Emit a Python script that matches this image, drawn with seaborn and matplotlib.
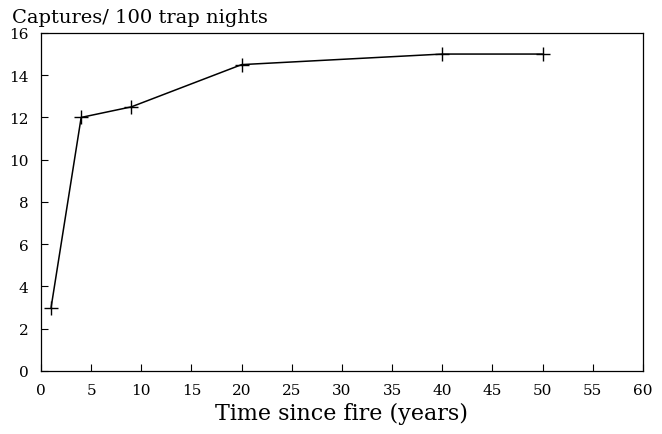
import pandas as pd
from matplotlib import pyplot as plt
import seaborn as sns

# Captures per 100 trap nights vs time since fire
years = [1, 4, 9, 20, 40, 50]
captures = [3, 12, 12.5, 14.5, 15, 15]

data = pd.DataFrame({"years": years, "captures": captures})

sns.set_style("white")
plt.rcParams["font.family"] = ["DejaVu Serif"]

fig = plt.figure(figsize=(6.62, 4.35), dpi=100)
ax = fig.add_axes([0.062, 0.145, 0.909, 0.777])

sns.lineplot(data=data, x="years", y="captures", color="black", linewidth=1.1,
             marker="+", markersize=10, markeredgewidth=1.0, markeredgecolor="black", ax=ax)

ax.set_xlim(0, 60)
ax.set_ylim(0, 16)
ax.set_xticks(range(0, 61, 5))
ax.set_yticks(range(0, 17, 2))
ax.tick_params(bottom=True, left=True, direction="in", length=5, width=0.8,
               labelsize=11, pad=9, colors="black")
for s in ax.spines.values():
    s.set_color("black")
    s.set_linewidth(0.9)

ax.set_xlabel("Time since fire (years)", fontsize=16, labelpad=3, color="black")
ax.set_ylabel("")
fig.text(0.018, 0.958, "Captures/ 100 trap nights", fontsize=14, ha="left", va="center", color="black")

plt.savefig("out.png", dpi=100)
